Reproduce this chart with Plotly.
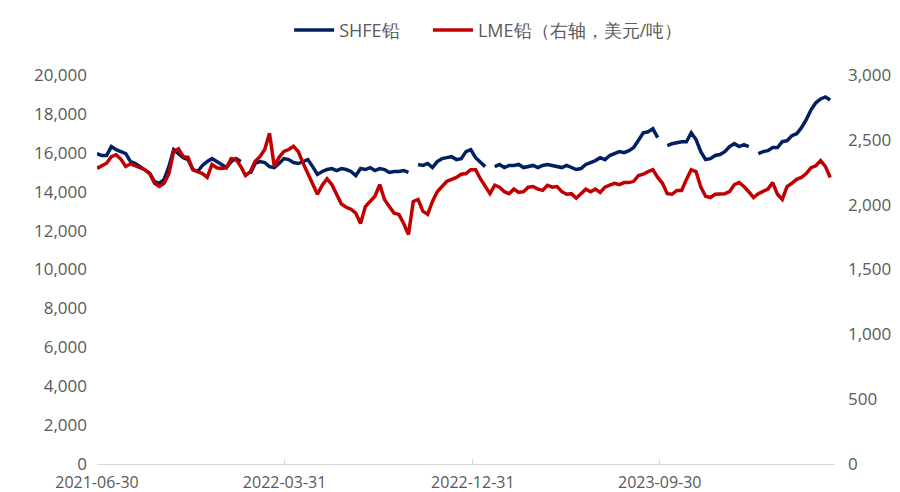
import pandas as pd
import plotly.graph_objects as go

dates = pd.date_range(start="2021-06-30", periods=154, freq="7D")

shfe_lead = [
    15960, 15860, 15860, 16320, 16160, 16060, 15960, 15550, 15450, 15290,
    15140, 14940, 14530, 14420, 14630, 15290, 16160, 15960, 15750, 15650,
    15140, 15040, 15350, 15550, 15700, 15550, 15400, 15240, 15550, 15700,
    15550, None, 14940, 15450, 15550, 15500, 15290, 15240, 15450, 15700,
    15650, 15500, 15450, 15550, 15650, 15290, 14890, 15040, 15140, 15190,
    15090, 15190, 15140, 15040, 14830, 15190, 15140, 15240, 15090, 15190,
    15140, 14990, 15040, 15040, 15090, 14990, None, 15400, 15350, 15450,
    15240, 15550, 15700, 15750, 15800, 15650, 15700, 16060, 16160, 15750,
    15500, 15290, None, 15290, 15400, 15240, 15350, 15350, 15400, 15240,
    15290, 15350, 15240, 15350, 15400, 15350, 15290, 15240, 15350, 15240,
    15140, 15190, 15400, 15500, 15600, 15750, 15650, 15860, 15960, 16060,
    16010, 16110, 16270, 16620, 17030, 17080, 17240, 16780, None, 16370,
    16470, 16520, 16570, 16570, 17030, 16680, 16060, 15650, 15700, 15860,
    15910, 16060, 16320, 16470, 16320, 16420, 16320, None, 15960, 16060,
    16110, 16270, 16270, 16570, 16620, 16880, 16980, 17290, 17700, 18210,
    18570, 18770, 18870, 18720,
]

lme_lead = [
    2280, 2300, 2320, 2370, 2385, 2350, 2295, 2315, 2300, 2285,
    2270, 2240, 2165, 2140, 2165, 2240, 2410, 2430, 2370, 2365,
    2270, 2255, 2240, 2210, 2310, 2285, 2280, 2285, 2355, 2350,
    2295, 2225, 2255, 2335, 2370, 2425, 2550, 2295, 2365, 2410,
    2425, 2450, 2410, 2320, 2240, 2155, 2080, 2150, 2200, 2155,
    2085, 2005, 1980, 1965, 1935, 1855, 1985, 2025, 2065, 2155,
    2040, 1985, 1935, 1925, 1855, 1770, 2025, 2040, 1950, 1925,
    2025, 2100, 2140, 2180, 2195, 2210, 2235, 2240, 2270, 2270,
    2200, 2140, 2085, 2150, 2135, 2100, 2085, 2120, 2095, 2100,
    2135, 2140, 2120, 2110, 2150, 2135, 2140, 2100, 2080, 2085,
    2050, 2085, 2120, 2100, 2120, 2095, 2135, 2150, 2165, 2155,
    2170, 2170, 2180, 2225, 2235, 2255, 2270, 2210, 2165, 2085,
    2080, 2110, 2110, 2195, 2270, 2255, 2135, 2065, 2055, 2080,
    2085, 2085, 2100, 2155, 2170, 2140, 2100, 2055, 2085, 2100,
    2120, 2170, 2080, 2040, 2140, 2165, 2195, 2210, 2240, 2285,
    2300, 2340, 2295, 2210,
]

tick_dates = ["2021-06-30", "2022-03-31", "2022-12-31", "2023-09-30"]

FONT = "Open Sans"
GREY = "#595959"
NB = "\u00a0"

fig = go.Figure()
fig.add_trace(go.Scatter(
    x=dates, y=shfe_lead, name="SHFE铅" + NB * 5, mode="lines",
    line=dict(color="#002060", width=3.5), connectgaps=False,
))
fig.add_trace(go.Scatter(
    x=dates, y=lme_lead, name="LME铅（右轴，美元/吨）", mode="lines",
    line=dict(color="#C00000", width=3.5), yaxis="y2",
))

fig.update_layout(
    width=900, height=492,
    margin=dict(l=97, r=65, t=73, b=28),
    paper_bgcolor="white", plot_bgcolor="white",
    font=dict(family=FONT, size=17, color=GREY),
    showlegend=True,
    legend=dict(orientation="h", x=0.53, xanchor="center", y=1.115, yanchor="middle",
                font=dict(size=18, color=GREY), itemwidth=40),
    xaxis=dict(
        type="date", range=["2021-06-30", "2024-06-12"],
        tickvals=tick_dates, ticktext=tick_dates, automargin=False,
        showgrid=False, showline=True, linecolor="#d9d9d9", linewidth=1,
        ticks="inside", ticklen=5, tickcolor="#d9d9d9", ticklabelstandoff=4,
        tickfont=dict(size=16, color=GREY), zeroline=False,
    ),
    yaxis=dict(
        range=[0, 20000], dtick=2000, tickformat=",", showgrid=False, automargin=False,
        zeroline=False, showline=False, ticks="", ticklabelstandoff=9,
        tickfont=dict(size=17, color=GREY),
    ),
    yaxis2=dict(
        range=[0, 3000], dtick=500, tickformat=",", overlaying="y", side="right",
        showgrid=False, zeroline=False, showline=False, ticks="", ticklabelstandoff=12,
        automargin=False, tickfont=dict(size=17, color=GREY),
    ),
)

fig.write_html("out.html", config={"displayModeBar": False},
               post_script="document.body.style.margin='0';")
